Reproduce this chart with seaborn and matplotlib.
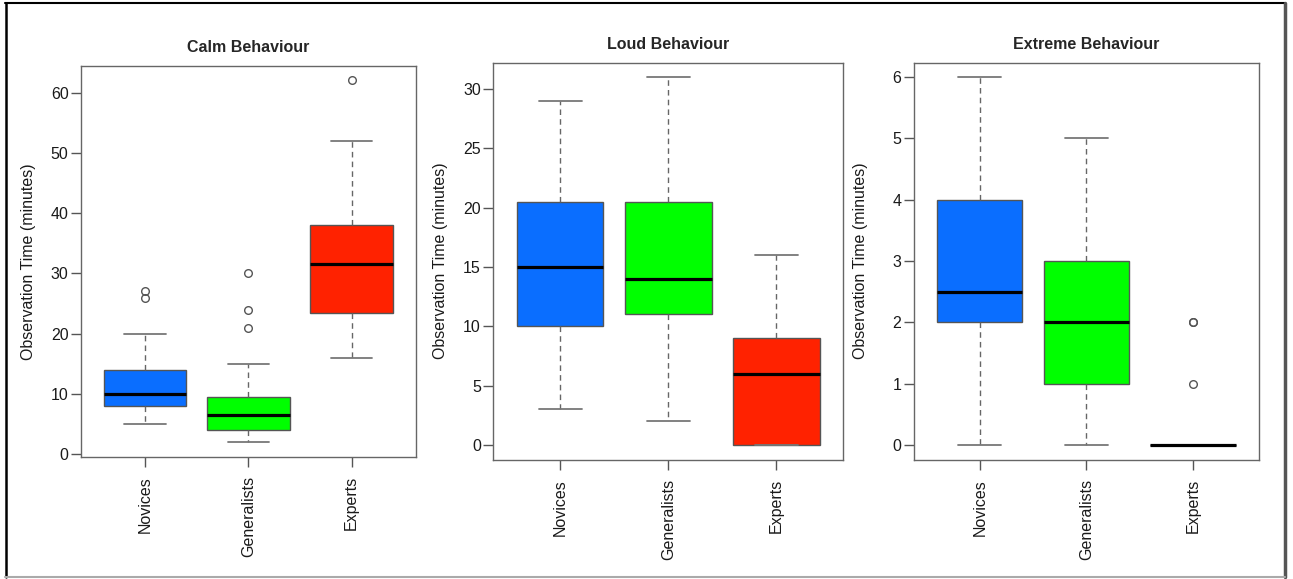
import numpy as np
import pandas as pd
import matplotlib
matplotlib.use("Agg")
import matplotlib.pyplot as plt
import seaborn as sns
from matplotlib.lines import Line2D

# ---------------- data ----------------
groups = ["Novices", "Generalists", "Experts"]
colors = ["#0A6EFF", "#00FF00", "#FF2200"]
titles = ["Calm Behaviour", "Loud Behaviour", "Extreme Behaviour"]
ylabel = "Observation Time (minutes)"

calm_novices = [5, 6, 7, 8, 9, 10, 10, 11, 12, 14, 20, 26, 27]
calm_generalists = [2, 3, 3, 3.5, 4, 5, 5.5, 6, 6.5, 7, 8, 9, 9.5, 15, 21, 24, 30]
calm_experts = [16, 20, 23.5, 28, 31.5, 35, 38, 52, 62]

loud_novices = [3, 7, 10, 12, 15, 18, 20.5, 25, 29]
loud_generalists = [2, 6, 11, 12, 14, 17, 20.5, 26, 31]
loud_experts = [0, 0, 0, 3, 6, 7, 9, 12, 16]

extreme_novices = [0, 1, 2, 2, 2.5, 3, 4, 5, 6]
extreme_generalists = [0, 1, 1, 2, 2, 2, 3, 4, 5]
extreme_experts = [0, 0, 0, 0, 0, 0, 0, 0, 0, 0, 1, 2, 2]

calm_ticks = [0, 10, 20, 30, 40, 50, 60]
loud_ticks = [0, 5, 10, 15, 20, 25, 30]
extreme_ticks = [0, 1, 2, 3, 4, 5, 6]

panels = [
    (titles[0], [calm_novices, calm_generalists, calm_experts], calm_ticks),
    (titles[1], [loud_novices, loud_generalists, loud_experts], loud_ticks),
    (titles[2], [extreme_novices, extreme_generalists, extreme_experts], extreme_ticks),
]

# ---------------- style ----------------
sns.set_style("ticks")
plt.rcParams["font.family"] = ["Liberation Sans", "DejaVu Sans"]

W, H = 1293, 579
fig = plt.figure(figsize=(W / 100, H / 100), dpi=100)

# axes rectangles in pixels: left, top, right, bottom
rects_px = [
    (81.0, 66.0, 415.7, 456.7),
    (493.3, 62.5, 843.3, 459.5),
    (913.7, 62.5, 1259.0, 459.5),
]
label_x_px = [36, 448, 868]

for (title, vals, ticks), (l, t, r, b), lx in zip(panels, rects_px, label_x_px):
    ax = fig.add_axes([l / W, (H - b) / H, (r - l) / W, (b - t) / H])
    df = pd.DataFrame({
        "group": np.repeat(groups, [len(v) for v in vals]),
        "value": np.concatenate([np.asarray(v, dtype=float) for v in vals]),
    })
    sns.boxplot(
        data=df, x="group", y="value", hue="group",
        order=groups, hue_order=groups, palette=colors,
        saturation=1, width=0.8, whis=1.5, legend=False, ax=ax,
        linewidth=1, linecolor="#555555",
        boxprops=dict(edgecolor="#555555", linewidth=1),
        medianprops=dict(color="black", linewidth=2.3),
        whiskerprops=dict(color="#666666", linewidth=1, linestyle=(0, (4, 3))),
        capprops=dict(color="#777777", linewidth=1.3),
        flierprops=dict(marker="o", markersize=5.5, markerfacecolor="none",
                        markeredgecolor="#555555", markeredgewidth=1),
    )
    allv = np.concatenate([np.asarray(v, dtype=float) for v in vals])
    lo, hi = allv.min(), allv.max()
    pad = 0.04 * (hi - lo)
    ax.set_ylim(lo - pad, hi + pad)
    ax.set_xlim(-0.62, 2.62)
    ax.set_yticks(ticks)
    ax.set_yticklabels([str(v) for v in ticks])
    ax.set_xlabel("")
    ax.set_ylabel(ylabel, fontsize=11.5, color="#1a1a1a")
    ax.yaxis.set_label_coords((lx - l) / (r - l), 0.5)
    ax.set_title(title, fontsize=11.5, fontweight="bold", pad=10)
    for s in ax.spines.values():
        s.set_visible(True)
        s.set_color("#666666")
        s.set_linewidth(1)
    ax.tick_params(axis="x", rotation=90, length=7, width=1, color="#555555",
                   pad=7, labelsize=11.5, labelcolor="#1a1a1a")
    ax.tick_params(axis="y", length=7, width=1, color="#555555",
                   pad=2, labelsize=11.5, labelcolor="#1a1a1a")

# outer frame
fig.add_artist(Line2D([5 / W, 1285 / W], [1 - 3 / H, 1 - 3 / H], color="black", lw=1.5))
fig.add_artist(Line2D([5.5 / W, 5.5 / W], [1 - 3 / H, 1 - 577 / H], color="black", lw=1.8))
fig.add_artist(Line2D([1285 / W, 1285 / W], [1 - 3 / H, 1 - 577 / H], color="#555555", lw=2.5))
fig.add_artist(Line2D([5 / W, 1285 / W], [1 - 577 / H, 1 - 577 / H], color="#aaaaaa", lw=1.5))

fig.savefig("out.png", dpi=100)
